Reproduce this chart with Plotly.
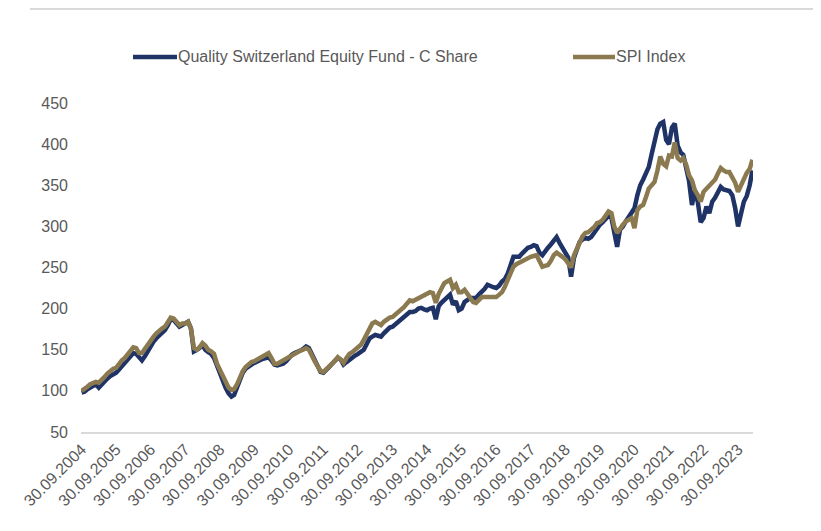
import pandas as pd
import plotly.graph_objects as go

# Monthly index levels, 30.09.2004 = 100 (month-end, Sep 2004 .. Feb 2024)
start_date = "2004-09-30"

fund = [
    # Sep04 - Aug05
    98, 99, 102, 104, 107, 108, 104, 108, 112, 115, 118, 120,
    # Sep05 - Aug06
    122, 126, 130, 133, 137, 140, 146, 145, 140, 137, 142, 148,
    # Sep06 - Aug07
    156, 160, 164, 167, 170, 174, 180, 187, 186, 182, 178, 180,
    # Sep07 - Aug08
    182, 184, 176, 148, 150, 152, 156, 150, 147, 145, 140, 130,
    # Sep08 - Aug09
    122, 112, 104, 97, 93, 95, 105, 115, 122, 127, 130, 132,
    # Sep09 - Aug10
    134, 136, 138, 139, 140, 141, 137, 132, 131, 132, 133, 136,
    # Sep10 - Aug11
    140, 144, 146, 147, 149, 151, 154, 152, 144, 138, 130, 123,
    # Sep11 - Aug12
    122, 125, 129, 133, 137, 140, 138, 132, 135, 138, 140, 143,
    # Sep12 - Aug13
    145, 147, 150, 157, 164, 166, 168, 167, 166, 170, 174, 177,
    # Sep13 - Aug14
    178, 181, 183, 186, 190, 193, 196, 196, 197, 200, 201, 199,
    # Sep14 - Aug15
    198, 200, 201, 187, 203, 207, 211, 215, 217, 205, 209, 198,
    # Sep15 - Aug16
    200, 208, 210, 213, 213, 213, 217, 220, 224, 229, 227, 226,
    # Sep16 - Aug17
    225, 228, 233, 236, 243, 255, 263, 263, 263, 267, 270, 274,
    # Sep17 - Aug18
    275, 277, 276, 268, 265, 270, 274, 278, 282, 287, 280, 275,
    # Sep18 - Aug19
    268, 262, 239, 262, 272, 281, 284, 286, 285, 287, 292, 298,
    # Sep19 - Aug20
    302, 305, 310, 313, 310, 292, 275, 296, 300, 306, 312, 318,
    # Sep20 - Aug21
    322, 338, 350, 357, 365, 372, 388, 405, 418, 425, 427, 405,
    # Sep21 - Aug22
    400, 420, 425, 398, 390, 387, 372, 355, 326, 344, 330, 305,
    # Sep22 - Aug23
    310, 324, 316, 330, 335, 342, 348, 345, 344, 343, 338, 322,
    # Sep23 - Feb24
    300, 318, 330, 337, 350, 368,
]

spi = [
    # Sep04 - Aug05
    100, 102, 105, 108, 110, 111, 110, 113, 117, 121, 125, 127,
    # Sep05 - Aug06
    128, 133, 137, 140, 144, 148, 153, 152, 146, 146, 151, 158,
    # Sep06 - Aug07
    162, 166, 170, 174, 176, 178, 183, 189, 188, 184, 180, 182,
    # Sep07 - Aug08
    182, 184, 176, 152, 150, 153, 158, 155, 150, 148, 145, 133,
    # Sep08 - Aug09
    126, 116, 109, 104, 101, 102, 108, 117, 124, 129, 133, 135,
    # Sep09 - Aug10
    136, 138, 140, 142, 145, 146, 140, 133, 133, 135, 137, 140,
    # Sep10 - Aug11
    141, 144, 146, 147, 149, 150, 152, 150, 141, 136, 130, 124,
    # Sep11 - Aug12
    123, 126, 129, 133, 137, 141, 138, 134, 140, 145, 147, 150,
    # Sep12 - Aug13
    152, 156, 162, 170, 178, 182, 184, 182, 180, 184, 187, 189,
    # Sep13 - Aug14
    190, 193, 195, 198, 202, 206, 210, 209, 211, 213, 214, 217,
    # Sep14 - Aug15
    218, 220, 219, 207, 218, 225, 231, 233, 235, 225, 229, 220,
    # Sep15 - Aug16
    220, 223, 218, 211, 208, 207, 210, 214, 214, 214, 213, 213,
    # Sep16 - Aug17
    214, 217, 220, 227, 235, 243, 251, 254, 256, 258, 260, 262,
    # Sep17 - Aug18
    263, 264, 265, 258, 251, 252, 253, 258, 265, 268, 266, 263,
    # Sep18 - Aug19
    260, 255, 250, 265, 273, 283, 288, 292, 293, 296, 299, 304,
    # Sep19 - Aug20
    305, 308, 314, 318, 316, 300, 292, 298, 302, 306, 308, 310,
    # Sep20 - Aug21
    298, 320, 324, 326, 336, 346, 350, 354, 368, 385, 376, 373,
    # Sep21 - Aug22
    386, 385, 402, 383, 380, 383, 375, 362, 356, 344, 338, 330,
    # Sep22 - Aug23
    342, 346, 350, 354, 357, 364, 371, 368, 366, 366, 360, 353,
    # Sep23 - Feb24
    342, 350, 360, 365, 370, 381,
]

tick_years = list(range(2004, 2024))
tick_labels = [f"30.09.{y}" for y in tick_years]
y_ticks = [50, 100, 150, 200, 250, 300, 350, 400, 450]

series_names = ["Quality Switzerland Equity Fund - C Share", "SPI Index"]
series_colors = ["#1f3366", "#8b7a50"]

dates = pd.date_range(start=start_date, periods=len(fund), freq=pd.offsets.MonthEnd())
tick_vals = [pd.Timestamp(f"{y}-09-30") for y in tick_years]

fig = go.Figure()
for name, vals, col in zip(series_names, [fund, spi], series_colors):
    fig.add_trace(go.Scatter(
        x=dates, y=vals, name=name, mode="lines",
        line=dict(color=col, width=4.5), showlegend=False,
    ))

# The page adds an 8 px body margin, so the figure is laid out 8 px up/left.
OFF = 8
W, H = 821 - OFF, 531 - OFF
PL, PR, PT, PB = 81 - OFF, 753 - OFF, 103 - OFF, 432 - OFF


def px_x(px):
    return (px - OFF - PL) / (PR - PL)


def px_y(py):
    return (PB - (py - OFF)) / (PB - PT)


legend_y = 57
legend_keys = [(133, 177, 176), (573, 615, 614)]
shapes = [dict(
    type="line", xref="paper", yref="paper",
    x0=px_x(30), x1=px_x(821), y0=px_y(9), y1=px_y(9),
    line=dict(color="#d9d9d9", width=2),
)]
annotations = []
for (lx0, lx1, tx), name, col in zip(legend_keys, series_names, series_colors):
    shapes.append(dict(
        type="line", xref="paper", yref="paper",
        x0=px_x(lx0), x1=px_x(lx1), y0=px_y(legend_y), y1=px_y(legend_y),
        line=dict(color=col, width=4.5),
    ))
    annotations.append(dict(
        xref="paper", yref="paper", x=px_x(tx), y=px_y(legend_y),
        xanchor="left", yanchor="middle", text=name, showarrow=False,
        font=dict(size=16, color="#595959"),
    ))

font_family = "Liberation Sans, Arial, sans-serif"
fig.update_layout(
    width=W, height=H,
    margin=dict(l=PL, r=W - PR, t=PT, b=H - PB, autoexpand=False),
    paper_bgcolor="white", plot_bgcolor="white",
    font=dict(family=font_family, size=16, color="#595959"),
    showlegend=False,
    xaxis=dict(
        type="date",
        range=[dates[0] - pd.Timedelta(days=6), dates[-1] + pd.Timedelta(days=6)],
        tickmode="array", tickvals=tick_vals, ticktext=tick_labels,
        tickangle=-45, showgrid=False, zeroline=False,
        showline=True, linecolor="#d9d9d9", linewidth=1.5,
        ticks="", tickfont=dict(size=16, color="#595959"),
        automargin=False,
    ),
    yaxis=dict(
        range=[50, 450], tickmode="array", tickvals=y_ticks,
        showgrid=False, zeroline=False, showline=False,
        ticks="", ticklabelstandoff=12, automargin=False,
        tickfont=dict(size=16, color="#595959"),
    ),
    shapes=shapes,
    annotations=annotations,
)

fig.write_html("out.html")
